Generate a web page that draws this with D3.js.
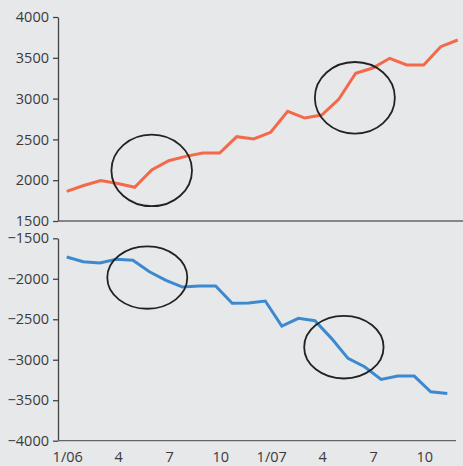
<!DOCTYPE html>
<html><head><meta charset="utf-8">
<script src="https://cdn.jsdelivr.net/npm/d3@7"></script>
<style>
html,body{margin:0;padding:0;background:#e7e8ea;}
svg{display:block;}
text{font-family:"Open Sans",sans-serif;}
</style></head>
<body><svg id="c" width="463" height="466"></svg>
<script>
const months = ["1/06","2","3","4","5","6","7","8","9","10","11","12","1/07","2","3","4","5","6","7","8","9","10","11","12"];
const tickLabels = ["1/06","4","7","10","1/07","4","7","10"];
const tickIdx = [0,3,6,9,12,15,18,21];
const topValues = [1864,1935,1995,1960,1913,2125,2239,2292,2333,2333,2533,2505,2587,2844,2762,2799,2991,3310,3375,3494,3412,3412,3636,3718];
const bottomValues = [-1731,-1789,-1805,-1760,-1772,-1913,-2019,-2102,-2090,-2090,-2303,-2300,-2275,-2584,-2489,-2518,-2736,-2983,-3087,-3243,-3202,-3202,-3396,-3416];
const topTicks = [1500,2000,2500,3000,3500,4000];
const bottomTicks = [-4000,-3500,-3000,-2500,-2000,-1500];
// highlighted regions: [month index, value, rx, ry]
const topCircles = [[5,2120,40.3,35.8],[16.95,3010,40,35.8]];
const bottomCircles = [[4.87,-1985,40,31.2],[16.75,-2845,39.7,31.3]];

const svg = d3.select("#c");
const axisX = 58;
const xTop = d3.scaleLinear().domain([0,23]).range([66.7,457.7]);
const xBot = d3.scaleLinear().domain([0,23]).range([66.7,447.3]);
const yTop = d3.scaleLinear().domain([1500,4000]).range([221,17]);
const yBot = d3.scaleLinear().domain([-4000,-1500]).range([440.7,238.3]);

function drawY(scale, ticks){
  const g = svg.append("g").attr("transform",`translate(${axisX},0)`)
    .call(d3.axisLeft(scale).tickValues(ticks).tickSize(5).tickSizeOuter(0).tickPadding(4).tickFormat(d3.format("d")));
  g.select(".domain").attr("stroke","#444").attr("stroke-width",1.3);
  g.selectAll(".tick line").attr("stroke","#444").attr("stroke-width",1.3);
  g.selectAll(".tick text").attr("fill","#3a3a3a").attr("font-size",14.5).attr("font-family","'Open Sans',sans-serif");
}
function hline(y, x2){
  svg.append("line").attr("x1",axisX).attr("x2",x2).attr("y1",y).attr("y2",y)
    .attr("stroke","#666").attr("stroke-width",1.3);
}
drawY(yTop, topTicks);
drawY(yBot, bottomTicks);
hline(yTop(1500), 463);
hline(yBot(-4000), 456);

// x labels
svg.append("g").selectAll("text").data(tickIdx).join("text")
  .attr("x",d=>xTop(d)+1).attr("y",462).attr("text-anchor","middle")
  .attr("fill","#3a3a3a").attr("font-size",14.5)
  .text((d,i)=>tickLabels[i]);

const lineTop = d3.line().x((d,i)=>xTop(i)).y(d=>yTop(d));
const lineBot = d3.line().x((d,i)=>xBot(i)).y(d=>yBot(d));
svg.append("path").attr("d",lineTop(topValues)).attr("fill","none")
  .attr("stroke","#f4694a").attr("stroke-width",3).attr("stroke-linejoin","miter");
svg.append("path").attr("d",lineBot(bottomValues)).attr("fill","none")
  .attr("stroke","#3d89cf").attr("stroke-width",3).attr("stroke-linejoin","miter");

svg.append("g").selectAll("ellipse").data(topCircles).join("ellipse")
  .attr("cx",d=>xTop(d[0])).attr("cy",d=>yTop(d[1])).attr("rx",d=>d[2]).attr("ry",d=>d[3])
  .attr("fill","none").attr("stroke","#222").attr("stroke-width",1.8);
svg.append("g").selectAll("ellipse").data(bottomCircles).join("ellipse")
  .attr("cx",d=>xBot(d[0])).attr("cy",d=>yBot(d[1])).attr("rx",d=>d[2]).attr("ry",d=>d[3])
  .attr("fill","none").attr("stroke","#222").attr("stroke-width",1.8);
</script></body></html>
